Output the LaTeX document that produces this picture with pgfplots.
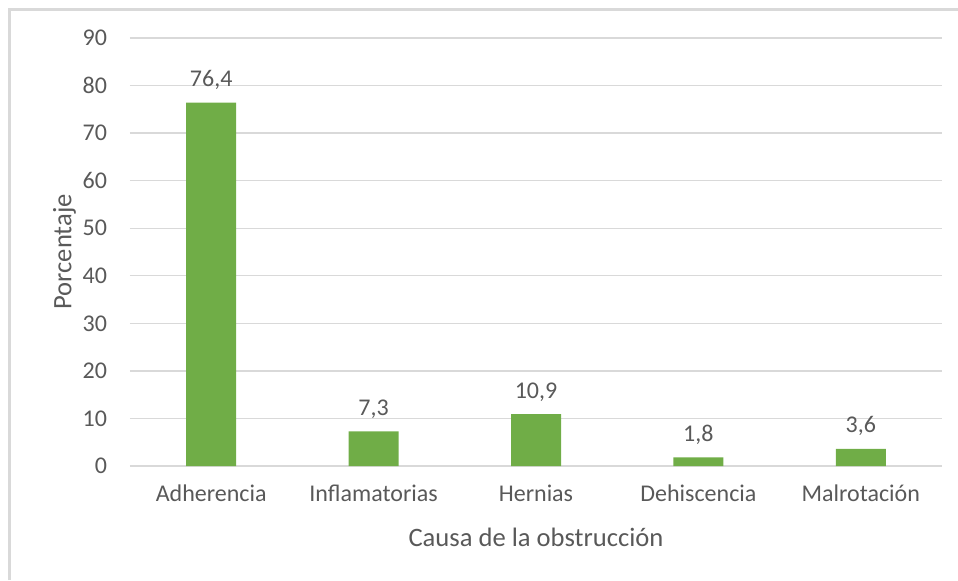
\documentclass[border=0pt]{standalone}
\usepackage{fontspec}
\setmainfont{Carlito}
\usepackage{pgfplots}
\pgfplotsset{compat=1.18}
\definecolor{barg}{HTML}{70AD47}
\definecolor{gridg}{HTML}{D9D9D9}
\definecolor{txtg}{HTML}{595959}

\begin{document}
\begin{tikzpicture}
  \useasboundingbox (0,0) rectangle (479pt,290pt);
  % frame of the chart area (cropped at right and bottom)
  \draw[gridg, line width=1.2pt] (4.8pt,0) -- (4.8pt,285.2pt) -- (479pt,285.2pt);
  \begin{axis}[
    at={(65pt,57pt)}, anchor=south west,
    scale only axis, width=406pt, height=214pt,
    ybar, bar width=25pt,
    xmin=-0.5, xmax=4.5, ymin=0, ymax=90,
    xtick=data,
    xticklabels={Adherencia,Inflamatorias,Hernias,Dehiscencia,Malrotación},
    ytick={0,10,...,90},
    ymajorgrids, grid style={gridg, line width=0.7pt},
    axis x line*=bottom, axis y line*=left,
    x axis line style={gridg, line width=0.9pt, -},
    y axis line style={draw=none},
    major tick length=0pt,
    tick label style={font=\fontsize{12}{14}\selectfont, text=txtg},
    /pgf/number format/assume math mode=true,
    xticklabel style={yshift=-6pt},
    yticklabel style={xshift=-8pt},
    xlabel={Causa de la obstrucción},
    ylabel={Porcentaje},
    label style={font=\fontsize{13.3}{15}\selectfont, text=txtg},
    xlabel style={yshift=-6pt},
    ylabel style={yshift=-3.5pt},
    nodes near coords,
    nodes near coords style={font=\fontsize{12}{14}\selectfont, text=txtg, yshift=3pt,
      /pgf/number format/use comma, /pgf/number format/fixed,
      /pgf/number format/fixed zerofill, /pgf/number format/precision=1,
      /pgf/number format/assume math mode=true},
  ]
    \addplot[fill=barg, draw=none] coordinates {(0,76.4) (1,7.3) (2,10.9) (3,1.8) (4,3.6)};
  \end{axis}
\end{tikzpicture}
\end{document}
